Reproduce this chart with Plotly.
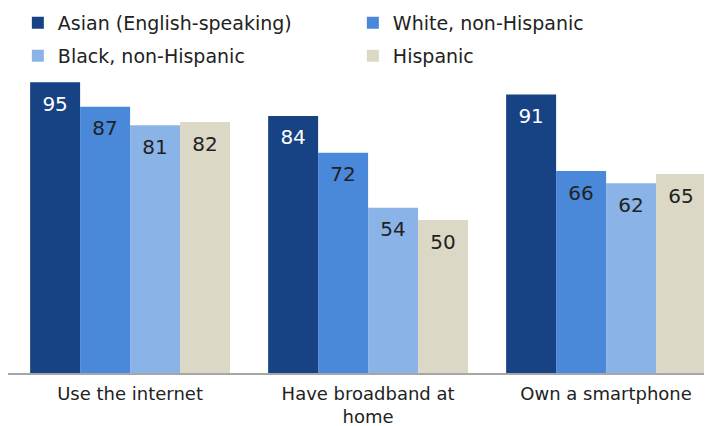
import plotly.graph_objects as go

categories = ["Use the internet", "Have broadband at<br>home", "Own a smartphone"]
series_names = ["Asian (English-speaking)", "White, non-Hispanic", "Black, non-Hispanic", "Hispanic"]
asian = [95, 84, 91]
white = [87, 72, 66]
black = [81, 54, 62]
hispanic = [82, 50, 65]
colors = ["#174384", "#4A88D9", "#8AB4E8", "#DBD9C5"]
text_colors = ["#ffffff", "#222222", "#222222", "#222222"]
legend_ids = ["legend", "legend", "legend2", "legend2"]

FONT = "DejaVu Sans"
# the page body adds an 8px offset, so the figure covers the visible 704x418 area
W, H = 704, 418
ml, mr, mt, mb = 0, 0, 59, 53

fig = go.Figure()
for name, vals, col, lg in zip(series_names, [asian, white, black, hispanic], colors, legend_ids):
    fig.add_trace(go.Bar(
        x=categories, y=vals, name=name, marker=dict(color=col, line=dict(width=0)),
        legend=lg, hoverinfo="skip",
    ))
# value labels, grouped the same way as the bars
for name, vals, tc in zip(series_names, [asian, white, black, hispanic], text_colors):
    fig.add_trace(go.Scatter(
        x=categories, y=vals, mode="markers+text", text=[str(v) for v in vals],
        textposition="bottom center", marker=dict(size=20, color="rgba(0,0,0,0)"),
        textfont=dict(color=tc, size=20, family=FONT), showlegend=False,
        hoverinfo="skip", cliponaxis=False,
    ))

plot_h = H - mt - mb
def py(screen_y):
    return (H - mb - (screen_y - 8)) / plot_h

fig.update_layout(
    width=W, height=H,
    margin=dict(l=ml, r=mr, t=mt, b=mb, autoexpand=False),
    barmode="group", bargap=0.16, bargroupgap=0,
    scattermode="group", scattergap=0.16,
    plot_bgcolor="white", paper_bgcolor="white",
    font=dict(family=FONT, size=18, color="#222222"),
    xaxis=dict(type="category", range=[-0.513, 2.445], showline=True, linecolor="#a6a6a6",
               linewidth=2, ticks="", tickfont=dict(size=18), showgrid=False,
               ticklabelstandoff=3, automargin=False),
    yaxis=dict(range=[0, 100], visible=False, showgrid=False, automargin=False),
    legend=dict(orientation="h", x=0.014, xanchor="left", y=py(23), yanchor="middle",
                entrywidthmode="pixels", entrywidth=290, font=dict(size=19),
                bgcolor="rgba(0,0,0,0)", itemclick=False),
    legend2=dict(orientation="h", x=0.014, xanchor="left", y=py(56), yanchor="middle",
                 entrywidthmode="pixels", entrywidth=290, font=dict(size=19),
                 bgcolor="rgba(0,0,0,0)", itemclick=False),
    showlegend=True,
)

fig.write_html("out.html")
